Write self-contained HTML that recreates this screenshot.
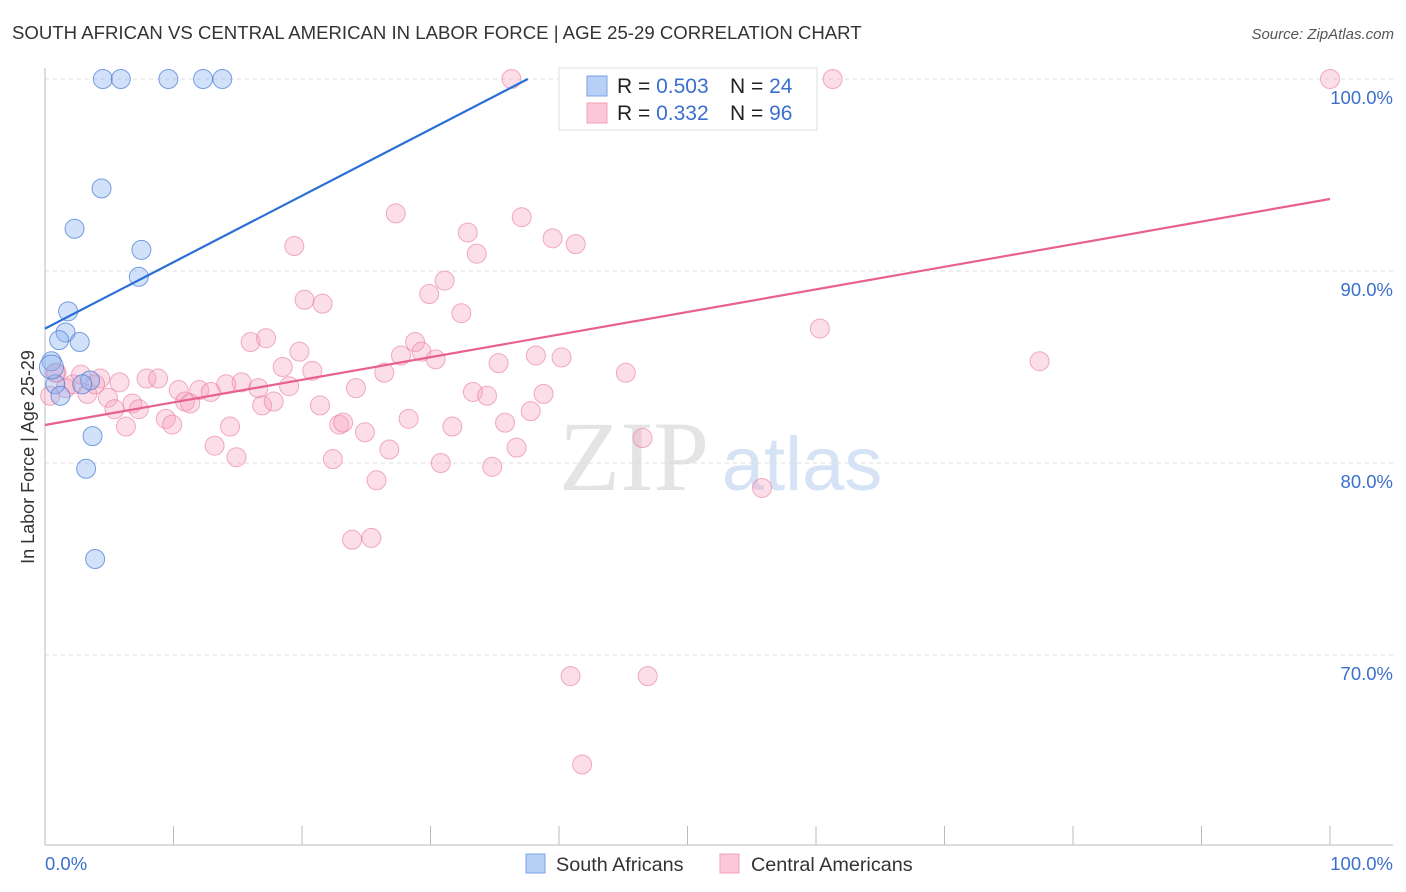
<!DOCTYPE html>
<html><head><meta charset="utf-8"><style>
body{margin:0;background:#fff;font-family:"Liberation Sans",sans-serif;}
svg{display:block}
</style></head><body>
<svg id="chart" width="1406" height="892">
<text x="12" y="39" font-size="18.6" fill="#333">SOUTH AFRICAN VS CENTRAL AMERICAN IN LABOR FORCE | AGE 25-29 CORRELATION CHART</text>
<text x="1394" y="39" font-size="15" fill="#555" font-style="italic" text-anchor="end">Source: ZipAtlas.com</text>
<g>
<text x="634" y="490" font-size="100" fill="#e4e4e4" font-family="Liberation Serif,serif" text-anchor="middle">ZIP</text>
<text x="802" y="490" font-size="76" fill="#d6e3f5" text-anchor="middle">atlas</text>
</g>
<text transform="translate(34,457) rotate(-90)" font-size="18" fill="#333" text-anchor="middle">In Labor Force | Age 25-29</text>
<g id="grid"></g><g id="axes"></g><g id="marks"></g>
<g>
<rect x="559" y="68" width="258" height="62" fill="#fff" stroke="#ddd"/>
<rect x="587" y="76" width="20" height="20" fill="#b8d0f5" stroke="#7aa3e5"/>
<rect x="587" y="103" width="20" height="20" fill="#fac8d8" stroke="#f0a0b8"/>
<text x="617" y="93" font-size="21" fill="#222">R = <tspan fill="#3a70cc">0.503</tspan></text>
<text x="730" y="93" font-size="21" fill="#222">N = <tspan fill="#3a70cc">24</tspan></text>
<text x="617" y="120" font-size="21" fill="#222">R = <tspan fill="#3a70cc"> 0.332</tspan></text>
<text x="730" y="120" font-size="21" fill="#222">N = <tspan fill="#3a70cc">96</tspan></text>
</g>
<g>
<rect x="526" y="854" width="19" height="19" fill="#b8d0f5" stroke="#7aa3e5"/>
<text x="556" y="871" font-size="19.8" fill="#333">South Africans</text>
<rect x="720" y="854" width="19" height="19" fill="#fac8d8" stroke="#f0a0b8"/>
<text x="751" y="871" font-size="19.8" fill="#333">Central Americans</text>
</g>
</svg>
<script>
const blueX=[4.5,5.9,9.6,12.3,13.8,4.4,2.3,7.5,7.3,1.8,1.6,1.1,2.7,0.5,0.8,1.2,3.5,2.9,3.7,3.2,3.9,56.8,0.5];
const blueY=[100,100,100,100,100,94.3,92.2,91.1,89.7,87.9,86.8,86.4,86.3,85.3,84.1,83.5,84.3,84.1,81.4,79.7,75.0,100,85.0];
const pinkX=[36.3,43.2,61.3,100,27.3,37.1,39.5,41.3,32.9,33.6,19.4,31.1,29.9,20.2,21.6,32.4,60.3,77.4,16.0,17.2,19.8,28.8,29.3,27.7,30.4,38.2,40.2,35.3,18.5,20.8,26.4,45.2,4.3,5.8,7.9,8.8,15.3,14.1,16.6,19.0,10.4,12.0,12.9,24.2,33.3,34.4,38.8,2.2,3.3,1.6,0.4,0.9,2.8,4.9,6.8,7.3,5.4,10.9,11.3,16.9,17.8,21.4,28.3,37.8,9.4,9.9,6.3,14.4,22.9,23.2,24.9,31.7,35.8,46.5,13.2,14.9,22.4,26.8,36.7,30.8,34.8,25.8,55.8,23.9,25.4,40.9,46.9,41.8,0.8,3.9];
const pinkY=[100,100,100,100,93.0,92.8,91.7,91.4,92.0,90.9,91.3,89.5,88.8,88.5,88.3,87.8,87.0,85.3,86.3,86.5,85.8,86.3,85.8,85.6,85.4,85.6,85.5,85.2,85.0,84.8,84.7,84.7,84.4,84.2,84.4,84.4,84.2,84.1,83.9,84.0,83.8,83.8,83.7,83.9,83.7,83.5,83.6,84.1,83.6,83.9,83.5,84.7,84.6,83.4,83.1,82.8,82.8,83.2,83.1,83.0,83.2,83.0,82.3,82.7,82.3,82.0,81.9,81.9,82.0,82.1,81.6,81.9,82.1,81.3,80.9,80.3,80.2,80.7,80.8,80.0,79.8,79.1,78.7,76.0,76.1,68.9,68.9,64.3,84.7,84.1];
const blueTrend=[87.0,0.346]; // intercept, slope
const pinkTrend=[81.98,0.1177];
const yTicks=[100,90,80,70];
const yTickLabels=["100.0%","90.0%","80.0%","70.0%"];
const xTicks=[0,10,20,30,40,50,60,70,80,90,100];

const NS="http://www.w3.org/2000/svg";
const sx=v=>45+v*12.85;
const sy=v=>79+(100-v)*19.2;
function mk(tag,attrs,parent){const e=document.createElementNS(NS,tag);for(const k in attrs)e.setAttribute(k,attrs[k]);parent.appendChild(e);return e;}
const grid=document.getElementById('grid'),axes=document.getElementById('axes'),marks=document.getElementById('marks');
yTicks.forEach((t,i)=>{
  const l=mk('line',{x1:45,x2:1393,y1:sy(t),y2:sy(t),stroke:'#ddd','stroke-dasharray':'4,4'},grid);
  
  
  const tx=mk('text',{x:1393,y:sy(t)+25,'font-size':18.5,fill:'#3a70cc','text-anchor':'end'},axes);
  tx.textContent=yTickLabels[i];
  
  
});
let a=mk('line',{x1:45,x2:45,y1:68,y2:845,stroke:'#bbb'},axes);


a=mk('line',{x1:45,x2:1393,y1:845,y2:845,stroke:'#bbb'},axes);


xTicks.forEach(t=>{
  const l=mk('line',{x1:sx(t),x2:sx(t),y1:826,y2:845,stroke:'#bbb'},axes);
  
  
});
let t0=mk('text',{x:45,y:870,'font-size':18.5,fill:'#3a70cc'},axes);t0.textContent='0.0%';


let t1=mk('text',{x:1393,y:870,'font-size':18.5,fill:'#3a70cc','text-anchor':'end'},axes);t1.textContent='100.0%';



pinkX.forEach((x,i)=>{
  const c=mk('circle',{cx:sx(x),cy:sy(pinkY[i]),r:9.5,fill:'rgba(246,160,190,0.35)',stroke:'rgba(232,120,160,0.6)','stroke-width':1},marks);
  
  
});
blueX.forEach((x,i)=>{
  const c=mk('circle',{cx:sx(x),cy:sy(blueY[i]),r:i==22?12:9.5,fill:'rgba(140,180,240,0.4)',stroke:'rgba(70,120,210,0.7)','stroke-width':1},marks);
  
  
});
const bx2=(100-blueTrend[0])/blueTrend[1];
let bl=mk('line',{x1:sx(0),y1:sy(blueTrend[0]),x2:sx(bx2),y2:sy(100),stroke:'#2a6fd6','stroke-width':2.2},marks);


let pl=mk('line',{x1:sx(0),y1:sy(pinkTrend[0]),x2:sx(100),y2:sy(pinkTrend[0]+100*pinkTrend[1]),stroke:'#e8608e','stroke-width':2.2},marks);


</script>
</body></html>
